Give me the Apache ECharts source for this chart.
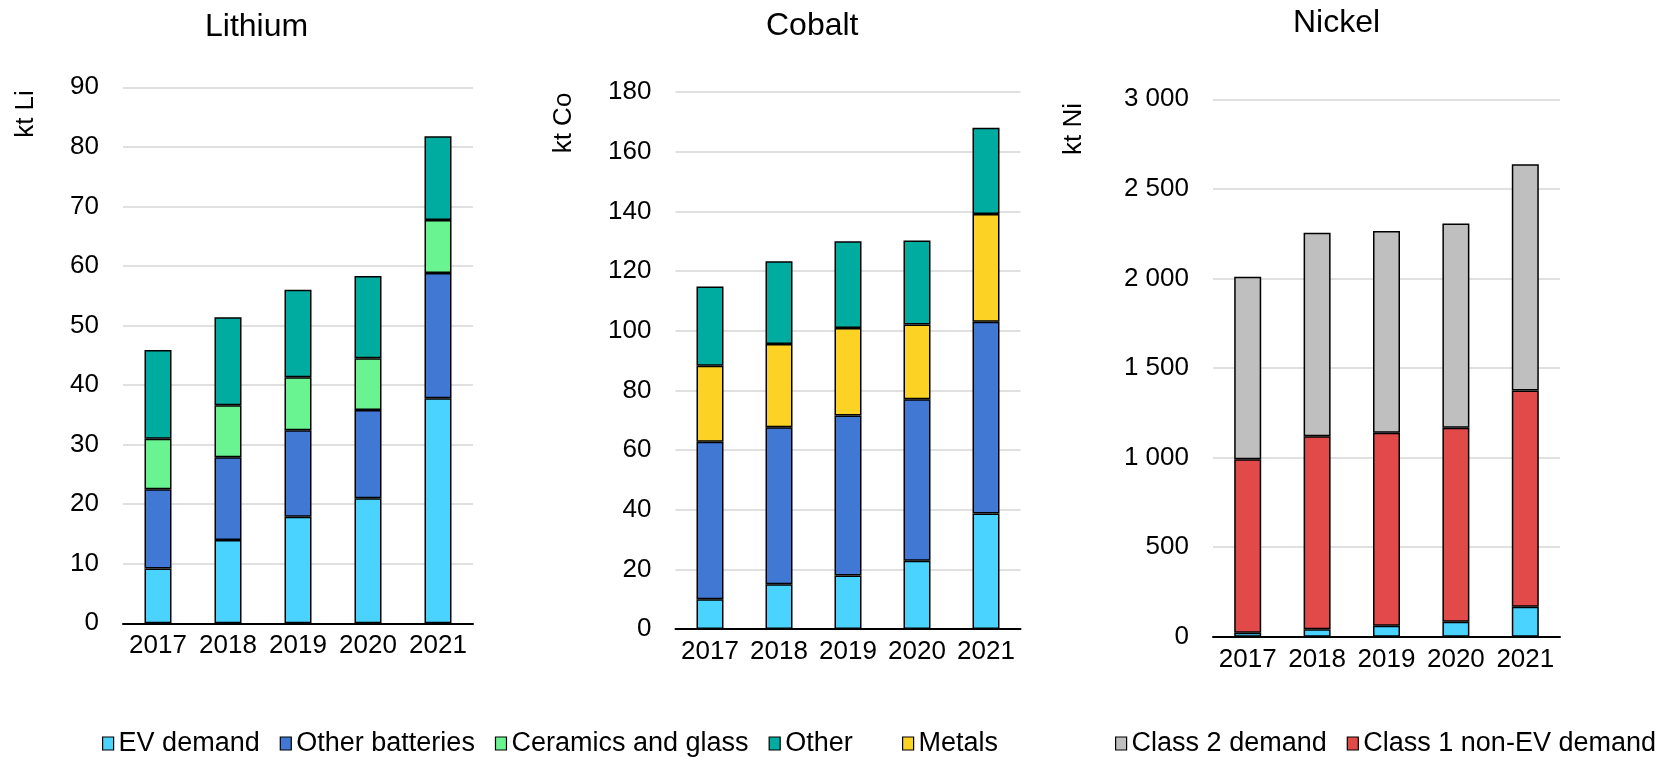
<!DOCTYPE html>
<html>
<head>
<meta charset="utf-8">
<script src="https://cdn.jsdelivr.net/npm/echarts@6/dist/echarts.min.js"></script>
<style>
html,body{margin:0;padding:0;background:#fff;}
#chart{width:1664px;height:757px;}
</style>
</head>
<body>
<div id="chart"></div>
<script>
// ---- data ----
const years = ['2017', '2018', '2019', '2020', '2021'];

const liEV = [9.2, 14.0, 17.9, 21.0, 37.8];
const liOtherBatteries = [13.3, 13.9, 14.5, 14.8, 21.0];
const liCeramics = [8.5, 8.7, 8.9, 8.7, 8.9];
const liOther = [14.9, 14.8, 14.7, 13.8, 14.1];

const coEV = [10.0, 15.0, 17.9, 22.9, 38.7];
const coOtherBatteries = [52.8, 52.6, 53.7, 54.1, 64.3];
const coMetals = [25.4, 27.9, 29.3, 25.1, 36.1];
const coOther = [26.6, 27.8, 29.1, 28.1, 28.9];

const niEV = [22, 41, 61, 83, 167];
const niClass1 = [968, 1078, 1077, 1084, 1207];
const niClass2 = [1020, 1136, 1127, 1139, 1264];

const titles = ['Lithium', 'Cobalt', 'Nickel'];
const unitNames = ['kt Li', 'kt Co', 'kt Ni'];

// ---- styles ----
const FONT = "'Liberation Sans', Arial, sans-serif";
const C = {
  ev: '#4AD3FF',
  ob: '#4178D4',
  cer: '#69F491',
  other: '#00AB9F',
  metals: '#FCD325',
  c2: '#BFBFBF',
  c1: '#E24A4A'
};

const chart = echarts.init(document.getElementById('chart'), null, {renderer: 'canvas'});

const grids = [
  {left: 123, top: 87.3, width: 350, height: 536},
  {left: 675.5, top: 92, width: 345, height: 537},
  {left: 1213, top: 99.3, width: 347, height: 537.4}
];
const yRanges = [
  {max: 90, interval: 10},
  {max: 180, interval: 20},
  {max: 3000, interval: 500}
];

function fmtThousands(v) {
  if (v >= 1000) {
    return Math.floor(v / 1000) + ' ' + String(v % 1000).padStart(3, '0');
  }
  return String(v);
}

const xAxis = grids.map((g, i) => ({
  type: 'category',
  gridIndex: i,
  data: years,
  axisLine: {lineStyle: {color: '#000', width: 2}},
  axisTick: {show: false},
  axisLabel: {color: '#000', fontSize: 26, fontFamily: FONT, margin: 10, interval: 0, hideOverlap: false}
}));

const yAxis = grids.map((g, i) => ({
  type: 'value',
  gridIndex: i,
  min: 0,
  max: yRanges[i].max,
  interval: yRanges[i].interval,
  axisLine: {show: false},
  axisTick: {show: false},
  splitLine: {lineStyle: {color: '#E0E0E0', width: 2}},
  axisLabel: {
    color: '#000', fontSize: 26, fontFamily: FONT, margin: 24,
    formatter: i === 2 ? fmtThousands : null
  }
}));

function bar(name, data, color, idx, stack) {
  return {
    name: name,
    type: 'bar',
    xAxisIndex: idx,
    yAxisIndex: idx,
    stack: stack,
    data: data,
    barWidth: 27,
    itemStyle: {color: color, borderColor: '#000', borderWidth: 1.5},
    emphasis: {disabled: true}
  };
}

const series = [
  bar('EV demand', liEV, C.ev, 0, 'li'),
  bar('Other batteries', liOtherBatteries, C.ob, 0, 'li'),
  bar('Ceramics and glass', liCeramics, C.cer, 0, 'li'),
  bar('Other', liOther, C.other, 0, 'li'),

  bar('EV demand', coEV, C.ev, 1, 'co'),
  bar('Other batteries', coOtherBatteries, C.ob, 1, 'co'),
  bar('Metals', coMetals, C.metals, 1, 'co'),
  bar('Other', coOther, C.other, 1, 'co'),

  bar('EV demand', niEV, C.ev, 2, 'ni'),
  bar('Class 1 non-EV demand', niClass1, C.c1, 2, 'ni'),
  bar('Class 2 demand', niClass2, C.c2, 2, 'ni')
];

const titlePos = [
  {left: 205, top: 11},
  {left: 766, top: 10},
  {left: 1293, top: 7}
];

const legendBase = {
  orient: 'horizontal',
  padding: 0,
  itemGap: 20,
  itemWidth: 11,
  itemHeight: 13,
  icon: 'rect',
  itemStyle: {borderColor: '#000', borderWidth: 1.2},
  textStyle: {color: '#000', fontSize: 27, fontFamily: FONT},
  selectedMode: false,
  top: 730
};

const namePos = [
  {x: 26, y: 114},
  {x: 564, y: 123},
  {x: 1074, y: 129}
];

const option = {
  backgroundColor: '#fff',
  animation: false,
  title: titles.map((t, i) => ({
    text: t,
    left: titlePos[i].left,
    top: titlePos[i].top,
    padding: 0,
    textStyle: {color: '#000', fontSize: 32, fontWeight: 'normal', fontFamily: FONT}
  })),
  grid: grids,
  xAxis: xAxis,
  yAxis: yAxis,
  legend: [
    Object.assign({}, legendBase, {left: 102, data: ['EV demand', 'Other batteries', 'Ceramics and glass', 'Other']}),
    Object.assign({}, legendBase, {left: 902, data: ['Metals']}),
    Object.assign({}, legendBase, {left: 1115, data: ['Class 2 demand', 'Class 1 non-EV demand']})
  ],
  graphic: unitNames.map((n, i) => ({
    type: 'text',
    x: namePos[i].x,
    y: namePos[i].y,
    rotation: Math.PI / 2,
    style: {
      text: n,
      font: '26px ' + FONT,
      fill: '#000',
      align: 'center',
      verticalAlign: 'middle',
      textAlign: 'center',
      textVerticalAlign: 'middle'
    }
  })),
  series: series
};

chart.setOption(option);
</script>
</body>
</html>
